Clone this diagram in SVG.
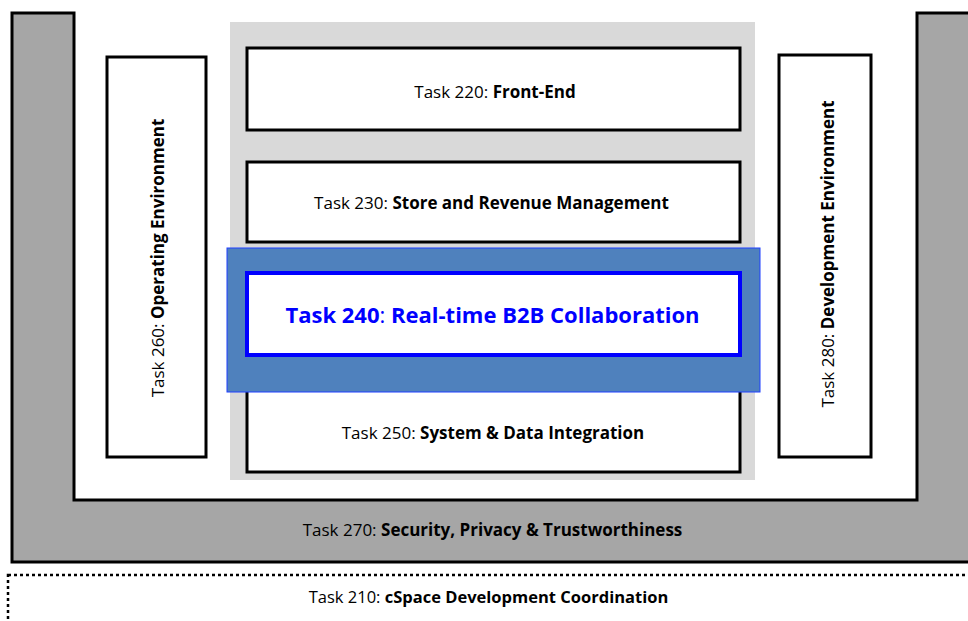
<svg xmlns="http://www.w3.org/2000/svg" width="968" height="621" viewBox="0 0 968 621">
<style>
.box{fill:#fff;stroke:#000;stroke-width:3}
.t{font-family:"Open Sans","Noto Sans","Liberation Sans",sans-serif;font-size:17px;fill:#000}
.b{font-weight:bold}
</style>
<rect width="968" height="621" fill="#fff"/>
<g id="task270">
<path d="M12,13 L74,13 L74,500 L917,500 L917,13 L975,13 L975,562 L12,562 Z" fill="#a6a6a6" stroke="#000" stroke-width="3"/>
<text class="t" x="492.5" y="536" text-anchor="middle">Task 270: <tspan class="b">Security, Privacy &amp; Trustworthiness</tspan></text>
</g>
<g id="task210">
<rect x="8" y="575" width="980" height="80" fill="none" stroke="#000" stroke-width="2.5" stroke-dasharray="3 3"/>
<text class="t" x="488.5" y="603" text-anchor="middle" style="font-size:16.5px">Task 210: <tspan class="b">cSpace Development Coordination</tspan></text>
</g>
<g id="core">
<rect x="230" y="22" width="525" height="458" fill="#d9d9d9"/>
</g>
<g id="task220">
<rect class="box" x="247" y="48" width="493" height="82"/>
<text class="t" x="495" y="98" text-anchor="middle">Task 220: <tspan class="b">Front-End</tspan></text>
</g>
<g id="task230">
<rect class="box" x="247" y="162" width="493" height="80"/>
<text class="t" x="491.5" y="209" text-anchor="middle">Task 230: <tspan class="b">Store and Revenue Management</tspan></text>
</g>
<g id="task250">
<rect class="box" x="247" y="375" width="493" height="97"/>
<text class="t" x="493" y="439" text-anchor="middle">Task 250: <tspan class="b">System &amp; Data Integration</tspan></text>
</g>
<g id="task240">
<rect x="227" y="248" width="533" height="144" fill="#4f81bd" stroke="#1f3fff" stroke-width="1"/>
<rect x="247" y="273" width="493" height="82" fill="#fff" stroke="#0000ff" stroke-width="4"/>
<text x="492.5" y="323" text-anchor="middle" font-family="Open Sans,Noto Sans,Liberation Sans,sans-serif" font-size="22" font-weight="bold" fill="#0000ff">Task 240<tspan font-weight="normal">:</tspan> Real-time B2B Collaboration</text>
</g>
<g id="task260">
<rect class="box" x="107" y="57" width="99" height="400"/>
<text class="t" transform="translate(164,258) rotate(-90)" text-anchor="middle">Task 260: <tspan class="b">Operating Environment</tspan></text>
</g>
<g id="task280">
<rect class="box" x="779" y="55" width="92" height="402"/>
<text class="t" transform="translate(834,254) rotate(-90)" text-anchor="middle">Task 280: <tspan class="b">Development Environment</tspan></text>
</g>
<g id="connectors"></g>
</svg>
